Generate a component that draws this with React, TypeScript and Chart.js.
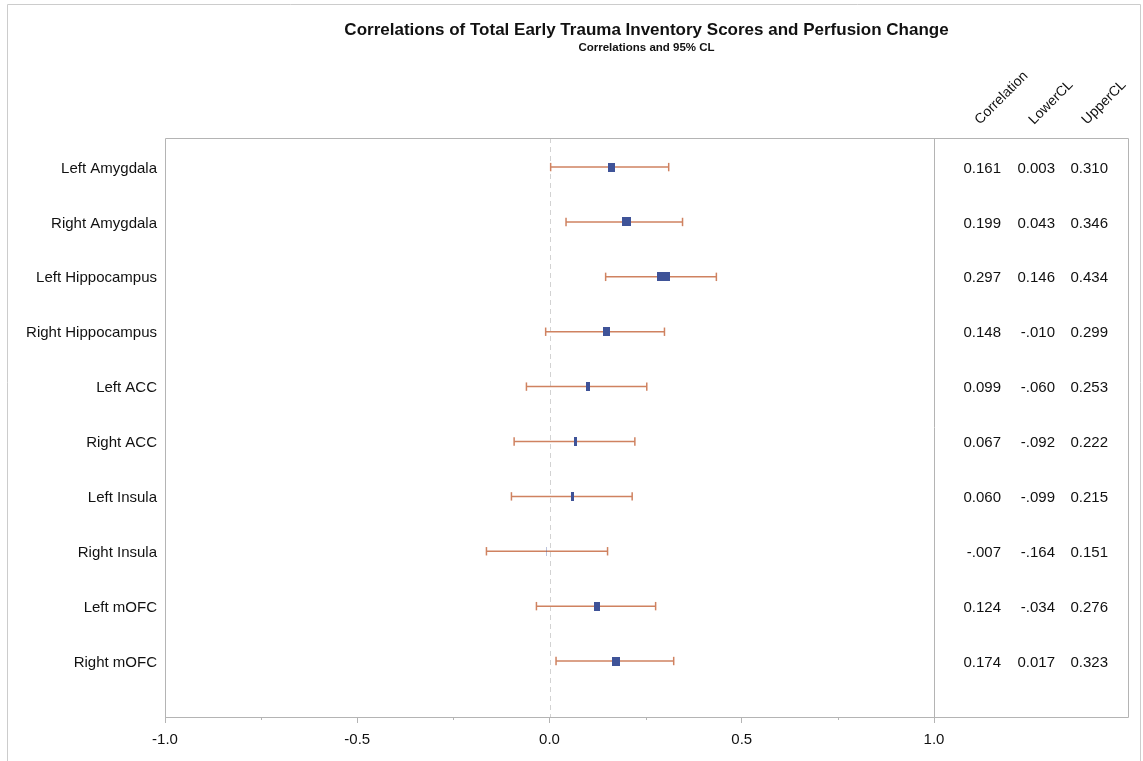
import React, { useEffect, useRef } from "react";
import { Chart, registerables } from "chart.js";

Chart.register(...registerables);

const regions = [
  "Left Amygdala",
  "Right Amygdala",
  "Left Hippocampus",
  "Right Hippocampus",
  "Left ACC",
  "Right ACC",
  "Left Insula",
  "Right Insula",
  "Left mOFC",
  "Right mOFC",
];
const correlation = [0.161, 0.199, 0.297, 0.148, 0.099, 0.067, 0.06, -0.007, 0.124, 0.174];
const lowerCL = [0.003, 0.043, 0.146, -0.01, -0.06, -0.092, -0.099, -0.164, -0.034, 0.017];
const upperCL = [0.31, 0.346, 0.434, 0.299, 0.253, 0.222, 0.215, 0.151, 0.276, 0.323];
const xTickValues = [-1, -0.5, 0, 0.5, 1];
const xMinorTicks = [-0.75, -0.25, 0.25, 0.75];
const tableHeaders = ["Correlation", "LowerCL", "UpperCL"];
const titleText = "Correlations of Total Early Trauma Inventory Scores and Perfusion Change";
const subtitleText = "Correlations and 95% CL";

const FONT = "'Liberation Sans', Arial, Helvetica, sans-serif";
const BAR_COLOR = "#cf8260";
const MARK_COLOR = "#3f5398";

const fmt = (v: number) => (v < 0 ? "-" + (-v).toFixed(3).slice(1) : v.toFixed(3));

function markerCanvas(r: number) {
  const w = Math.max(1, Math.round(Math.abs(r) * 45));
  const h = 9;
  const c = document.createElement("canvas");
  c.width = w;
  c.height = h;
  const g = c.getContext("2d")!;
  g.fillStyle = w <= 1 ? "rgba(63,83,152,0.35)" : MARK_COLOR;
  g.fillRect(0, 0, w, h);
  return c;
}

const decor = {
  id: "decor",
  beforeDatasetsDraw(chart: any) {
    const { ctx, chartArea: a, scales } = chart;
    const x = scales.x;
    ctx.save();
    ctx.strokeStyle = "#d2d2d2";
    ctx.lineWidth = 1;
    ctx.setLineDash([5, 4]);
    const x0 = Math.round(x.getPixelForValue(0)) + 0.5;
    ctx.beginPath();
    ctx.moveTo(x0, a.top);
    ctx.lineTo(x0, a.bottom);
    ctx.stroke();
    ctx.restore();
  },
  afterDraw(chart: any) {
    const { ctx, chartArea: a, scales, width } = chart;
    const x = scales.x;
    const y = scales.y;
    const tableRight = a.right + 194;
    ctx.save();

    // outer border
    ctx.strokeStyle = "#cccccc";
    ctx.lineWidth = 1;
    ctx.beginPath();
    ctx.moveTo(7.5, chart.height);
    ctx.lineTo(7.5, 4.5);
    ctx.lineTo(width - 2.5, 4.5);
    ctx.lineTo(width - 2.5, chart.height);
    ctx.stroke();

    // plot + table frame
    ctx.strokeStyle = "#b4b4b4";
    ctx.beginPath();
    ctx.rect(Math.round(a.left) + 0.5, Math.round(a.top) + 0.5, tableRight - Math.round(a.left), Math.round(a.bottom) - Math.round(a.top));
    ctx.moveTo(Math.round(a.right) + 0.5, a.top);
    ctx.lineTo(Math.round(a.right) + 0.5, a.bottom);
    ctx.stroke();

    // minor ticks
    ctx.beginPath();
    xMinorTicks.forEach((v) => {
      const px = Math.round(x.getPixelForValue(v)) + 0.5;
      ctx.moveTo(px, Math.round(a.bottom));
      ctx.lineTo(px, Math.round(a.bottom) + 3);
    });
    ctx.stroke();

    // row labels (y axis categories) and table values
    ctx.fillStyle = "#111111";
    ctx.font = `15px ${FONT}`;
    ctx.textAlign = "right";
    ctx.textBaseline = "middle";
    const colRight = [67, 121, 174];
    const cols = [correlation, lowerCL, upperCL];
    regions.forEach((name, i) => {
      const py = y.getPixelForValue(i) + 1.5;
      ctx.fillText(name, a.left - 8, py);
      cols.forEach((arr, c) => {
        ctx.fillText(fmt(arr[i]), a.right + colRight[c], py);
      });
    });

    // rotated headers
    ctx.font = `14px ${FONT}`;
    ctx.textAlign = "left";
    ctx.textBaseline = "alphabetic";
    tableHeaders.forEach((h, c) => {
      ctx.save();
      ctx.translate(a.right + colRight[c] - 21, 125);
      ctx.rotate(-Math.PI / 4);
      ctx.fillText(h, 0, 0);
      ctx.restore();
    });

    // titles
    const cx = (a.left + tableRight) / 2;
    ctx.textAlign = "center";
    ctx.textBaseline = "middle";
    ctx.font = `bold 17px ${FONT}`;
    ctx.fillText(titleText, cx, 30.5);
    ctx.font = `bold 11.5px ${FONT}`;
    ctx.fillText(subtitleText, cx, 48);
    ctx.restore();
  },
};

export default function App() {
  const ref = useRef<HTMLCanvasElement>(null);
  useEffect(() => {
    if (!ref.current) return;
    const barDatasets = regions.map((name, i) => ({
      type: "line" as const,
      label: name,
      data: [
        { x: lowerCL[i], y: i },
        { x: upperCL[i], y: i },
      ],
      borderColor: BAR_COLOR,
      borderWidth: 1.5,
      pointRadius: 0,
      fill: false,
      order: 3,
    }));
    const capData: { x: number; y: number }[] = [];
    regions.forEach((_, i) => {
      capData.push({ x: lowerCL[i], y: i });
      capData.push({ x: upperCL[i], y: i });
    });
    const markers = correlation.map((r) => markerCanvas(r));
    const chart = new Chart(ref.current, {
      type: "scatter",
      data: {
        datasets: [
          ...barDatasets,
          {
            type: "scatter",
            label: "caps",
            data: capData,
            pointStyle: "line",
            rotation: 90,
            radius: 4.2,
            borderColor: BAR_COLOR,
            borderWidth: 1.5,
            order: 2,
          } as any,
          {
            type: "scatter",
            label: "Correlation",
            data: correlation.map((r, i) => ({ x: r, y: i })),
            pointStyle: (ctx: any) => markers[ctx.dataIndex],
            order: 1,
          } as any,
        ],
      },
      plugins: [decor],
      options: {
        animation: false,
        responsive: true,
        maintainAspectRatio: false,
        events: [],
        layout: { padding: { top: 138, right: 209, left: 0, bottom: 0 } },
        plugins: {
          legend: { display: false },
          tooltip: { enabled: false },
          title: { display: false },
        },
        scales: {
          x: {
            type: "linear",
            min: -1,
            max: 1,
            afterBuildTicks: (s: any) => {
              s.ticks = xTickValues.map((v) => ({ value: v }));
            },
            afterFit: (s: any) => {
              s.height = 44;
            },
            ticks: {
              callback: (v: any) => Number(v).toFixed(1),
              font: { family: FONT, size: 15 },
              color: "#111111",
              padding: 8,
              maxRotation: 0,
            },
            grid: {
              drawOnChartArea: false,
              drawTicks: true,
              tickLength: 6,
              color: "#b4b4b4",
            },
            border: { display: true, color: "#b4b4b4" },
          },
          y: {
            type: "linear",
            min: -0.53,
            max: 10.02,
            reverse: true,
            afterBuildTicks: (s: any) => {
              s.ticks = regions.map((_, i) => ({ value: i }));
            },
            afterFit: (s: any) => {
              s.width = 165;
            },
            ticks: { display: false },
            grid: { display: false, drawTicks: false },
            border: { display: false },
          },
        },
      } as any,
    });
    return () => chart.destroy();
  }, []);
  return (
    <div style={{ position: "fixed", left: 0, top: 0, width: 1143, height: 761, background: "#ffffff" }}>
      <canvas ref={ref} />
    </div>
  );
}
